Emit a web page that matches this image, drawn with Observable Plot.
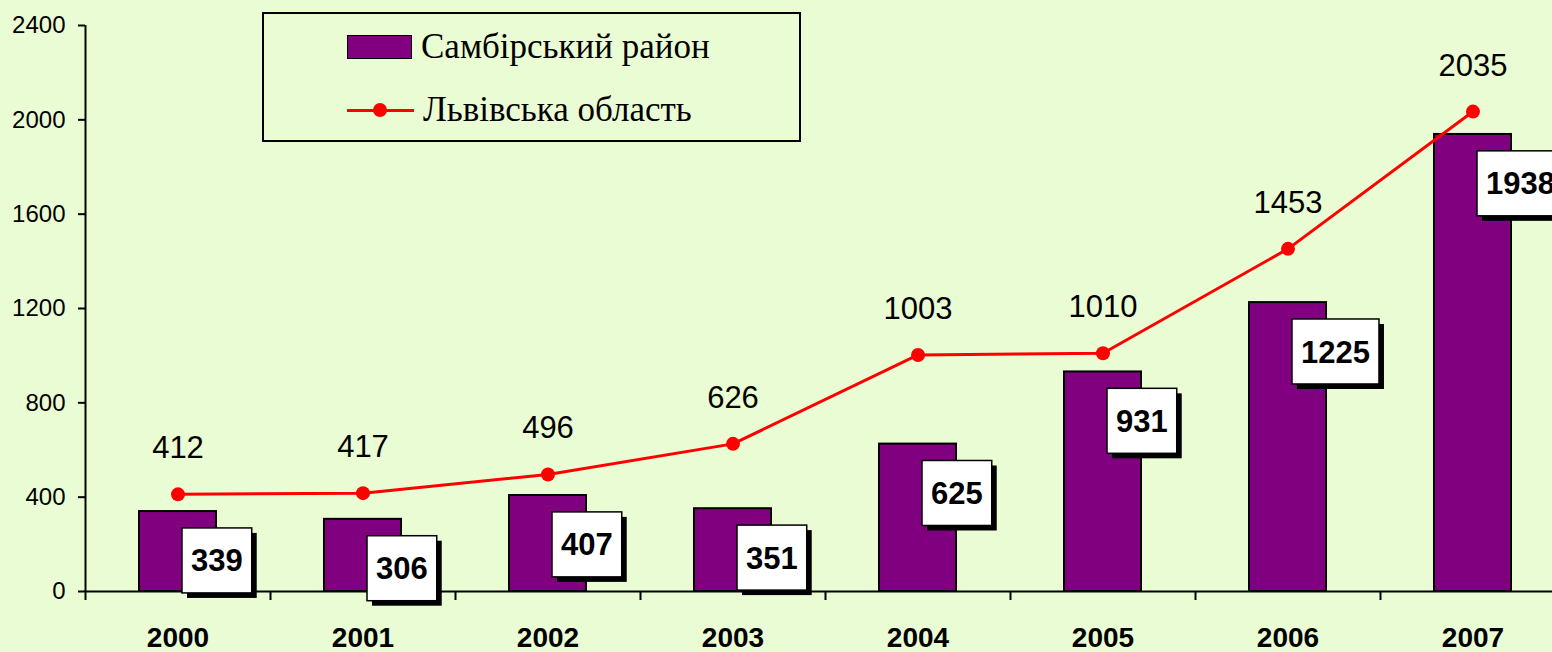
<!DOCTYPE html>
<html>
<head>
<meta charset="utf-8">
<script src="https://cdn.jsdelivr.net/npm/d3@7"></script>
<script src="https://cdn.jsdelivr.net/npm/@observablehq/plot@0.6"></script>
<style>
  html, body { margin: 0; padding: 0; background: #eafcd4; overflow: hidden; }
  #wrap { position: relative; width: 1552px; height: 652px; }
  #legend {
    position: absolute; left: 262px; top: 12px; width: 539px; height: 130px;
    border: 2px solid #000; box-sizing: border-box;
    font-family: "Liberation Serif", "Times New Roman", serif; font-size: 35px; color: #000;
  }
  .item { position: absolute; left: 83px; height: 36px; display: flex; align-items: center; }
  .item span { margin-left: 9px; white-space: nowrap; }
  .sw { width: 65px; height: 24px; background: #800080; border: 1.5px solid #000; box-sizing: border-box; }
  .ln { position: relative; width: 67px; height: 24px; }
  .ln::before { content: ""; position: absolute; left: 0; right: 0; top: 10.5px; height: 3px; background: #ff0000; }
  .ln::after { content: ""; position: absolute; left: 26px; top: 5px; width: 14px; height: 14px; border-radius: 50%; background: #ff0000; }
</style>
</head>
<body>
<div id="wrap">
  <div id="legend"></div>
</div>
<script>
const years = [2000, 2001, 2002, 2003, 2004, 2005, 2006, 2007];
const sambirValues = [339, 306, 407, 351, 625, 931, 1225, 1938];
const lvivValues = [412, 417, 496, 626, 1003, 1010, 1453, 2035];
const yTicks = [0, 400, 800, 1200, 1600, 2000, 2400];
const seriesNames = ["Самбірський район", "Львівська область"];

const data = years.map((year, i) => ({ year, s: sambirValues[i], l: lvivValues[i] }));
const bounds = [...years.map(y => y - 0.5), years[years.length - 1] + 0.5];

// legend
const legend = document.getElementById("legend");
legend.innerHTML =
  `<div class="item" style="top:15px"><div class="sw"></div><span>${seriesNames[0]}</span></div>` +
  `<div class="item" style="top:78px"><div class="ln"></div><span>${seriesNames[1]}</span></div>`;

const chart = Plot.plot({
  width: 1552,
  height: 652,
  marginLeft: 85,
  marginRight: 0,
  marginTop: 25,
  marginBottom: 61,
  style: { background: "transparent", overflow: "visible", fontFamily: "'Liberation Sans', Arial, sans-serif", color: "#000" },
  x: { type: "linear", domain: [1999.5, 2007.5], range: [85, 1565], axis: null },
  y: { domain: [0, 2400], range: [591, 25], axis: null },
  marks: [
    Plot.rect(data, { x1: d => d.year - 0.5, x2: d => d.year + 0.5, y1: 0, y2: "s", insetLeft: 54, insetRight: 54, fill: "#800080", stroke: "#000", strokeWidth: 2 }),
    Plot.ruleY([0], { stroke: "#000", strokeWidth: 2 }),
    Plot.ruleX([1999.5], { y1: 0, y2: 2400, stroke: "#000", strokeWidth: 2 }),
    Plot.axisY({ ticks: yTicks, tickSize: 7, tickPadding: 13, fontSize: 24, tickFormat: d => String(d), label: null, strokeWidth: 2 }),
    Plot.axisX({ ticks: bounds, tickSize: 9, tickFormat: () => "", label: null, strokeWidth: 2 }),
    Plot.axisX({ ticks: years, tickSize: 0, tickPadding: 36, fontSize: 28, fontWeight: "bold", tickFormat: d => String(d), label: null }),
    Plot.line(data, { x: "year", y: "l", stroke: "#ff0000", strokeWidth: 3 }),
    Plot.dot(data, { x: "year", y: "l", r: 7, fill: "#ff0000" }),
    Plot.text(data, { x: "year", y: "l", text: d => String(d.l), dy: -46, fontSize: 31, fill: "#000" }),
    Plot.text(data, { x: "year", y: "s", text: d => String(d.s), textAnchor: "start", dx: 13, dy: 50, fontSize: 31, fontWeight: "bold", fill: "#000" })
  ]
});

document.getElementById("wrap").appendChild(chart);

// boxes with shadow behind the bar value labels
const groups = chart.querySelectorAll('g[aria-label="text"]');
const g = groups[groups.length - 1];
const ns = "http://www.w3.org/2000/svg";
g.querySelectorAll("text").forEach(t => {
  const b = t.getBBox();
  const fs = 31;
  const cy = b.y + 0.547 * fs;
  const x = b.x - 9, w = b.width + 18, h = 65, y = cy - h / 2;
  const sh = document.createElementNS(ns, "rect");
  sh.setAttribute("x", x + 5); sh.setAttribute("y", y + 5);
  sh.setAttribute("width", w); sh.setAttribute("height", h);
  sh.setAttribute("fill", "#000");
  const bx = document.createElementNS(ns, "rect");
  bx.setAttribute("x", x); bx.setAttribute("y", y);
  bx.setAttribute("width", w); bx.setAttribute("height", h);
  bx.setAttribute("fill", "#fff"); bx.setAttribute("stroke", "#000"); bx.setAttribute("stroke-width", 1.5);
  if (t.getAttribute("transform")) { sh.setAttribute("transform", t.getAttribute("transform")); bx.setAttribute("transform", t.getAttribute("transform")); }
  g.insertBefore(sh, t);
  g.insertBefore(bx, t);
});
</script>
</body>
</html>
